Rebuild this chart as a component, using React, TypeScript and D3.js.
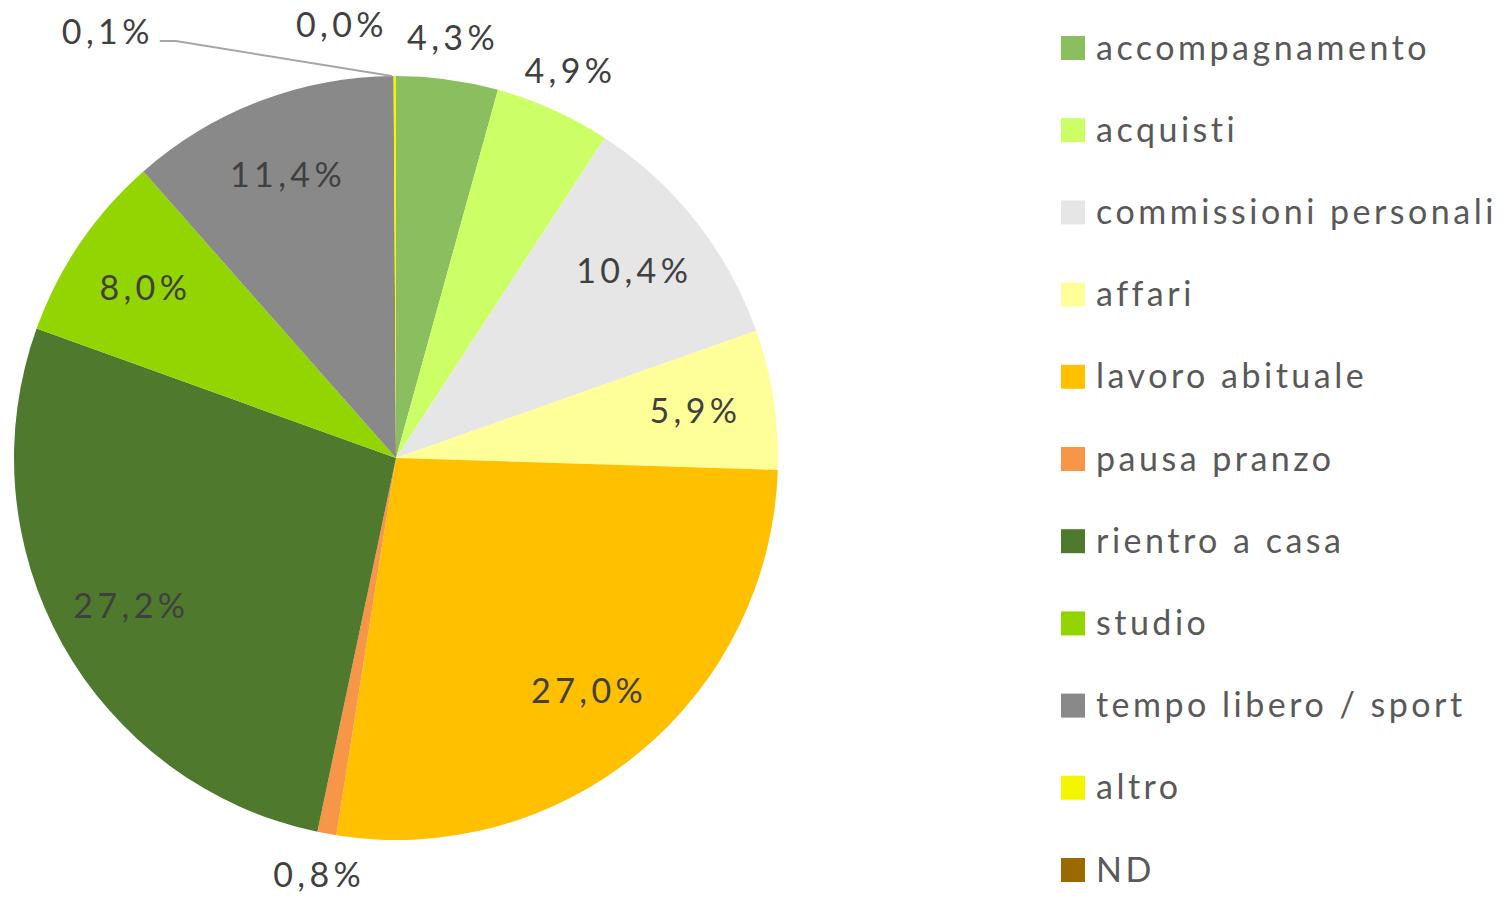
import React from "react";
import * as d3 from "d3";

const categories = [
  "accompagnamento",
  "acquisti",
  "commissioni personali",
  "affari",
  "lavoro abituale",
  "pausa pranzo",
  "rientro a casa",
  "studio",
  "tempo libero / sport",
  "altro",
  "ND",
];
const values = [4.3, 4.9, 10.4, 5.9, 27.0, 0.8, 27.2, 8.0, 11.4, 0.1, 0.0];
const colors = [
  "#8BBE5E",
  "#CCFF66",
  "#E6E6E6",
  "#FFFF99",
  "#FFC000",
  "#F79646",
  "#4F7A2E",
  "#92D500",
  "#898989",
  "#F5F500",
  "#9A6A00",
];

const W = 1507;
const H = 897;
const CX = 396;
const CY = 458;
const R = 382;
const FONT = "Lato, 'Open Sans', sans-serif";
const FS = 34;
const LS_LEG = 3.5;
const LS_LAB = 4.4;

const fmt = (v: number) => v.toFixed(1).replace(".", ",") + "%";

export default function App() {
  const pie = d3
    .pie<number>()
    .sort(null)
    .value((d) => d)
    .startAngle(0)
    .endAngle(2 * Math.PI);
  const arcs = pie(values);
  const arcGen = d3.arc<d3.PieArcDatum<number>>().innerRadius(0).outerRadius(R);

  const legendY = d3
    .scalePoint<string>()
    .domain(categories)
    .range([48, 870]);

  const polar = (a: number, r: number) => [CX + Math.sin(a) * r, CY - Math.cos(a) * r];

  const labels = arcs.map((a, i) => {
    const mid = (a.startAngle + a.endAngle) / 2;
    const v = values[i];
    if (i === categories.length - 1) {
      const [x, y] = polar(mid, 425);
      return { x: x - 8, y: y - 8, anchor: "end", text: fmt(v), line: null as null | number[][] };
    }
    if (i === categories.length - 2) {
      const [ex, ey] = polar(mid, R);
      const lx = ex - 235;
      const ly = ey - 35;
      return {
        x: lx - 6,
        y: ly - 9,
        anchor: "end",
        text: fmt(v),
        line: [
          [lx, ly],
          [lx + 16, ly],
          [ex - 3, ey],
        ],
      };
    }
    if (v < 5.5) {
      const [x, y] = polar(mid, 424);
      return { x, y, anchor: "middle", text: fmt(v), line: null };
    }
    const [x, y] = polar(mid, 303);
    return { x, y, anchor: "middle", text: fmt(v), line: null };
  });

  return (
    <svg
      width={W}
      height={H}
      style={{ position: "absolute", left: 0, top: 0, background: "#fff" }}
      fontFamily={FONT}
    >
      <g>
        {arcs.map((a, i) => (
          <path
            key={categories[i]}
            d={arcGen(a) || ""}
            transform={`translate(${CX},${CY})`}
            fill={colors[i]}
          />
        ))}
      </g>
      <g>
        {labels.map((l, i) =>
          l.line ? (
            <polyline
              key={"ln" + i}
              points={l.line.map((p) => p.join(",")).join(" ")}
              fill="none"
              stroke="#A6A6A6"
              strokeWidth={2}
            />
          ) : null
        )}
        {labels.map((l, i) => (
          <text
            key={"lb" + i}
            x={l.x}
            y={l.y}
            dy="0.35em"
            textAnchor={l.anchor as any}
            fontSize={FS}
            letterSpacing={LS_LAB}
            fill="#404040"
          >
            {l.text}
          </text>
        ))}
      </g>
      <g>
        {categories.map((c, i) => {
          const y = legendY(c) as number;
          return (
            <g key={c}>
              <rect x={1061} y={y - 12} width={24} height={24} fill={colors[i]} />
              <text
                x={1096}
                y={y}
                dy="0.34em"
                fontSize={FS}
                letterSpacing={LS_LEG}
                fill="#595959"
              >
                {c}
              </text>
            </g>
          );
        })}
      </g>
    </svg>
  );
}
